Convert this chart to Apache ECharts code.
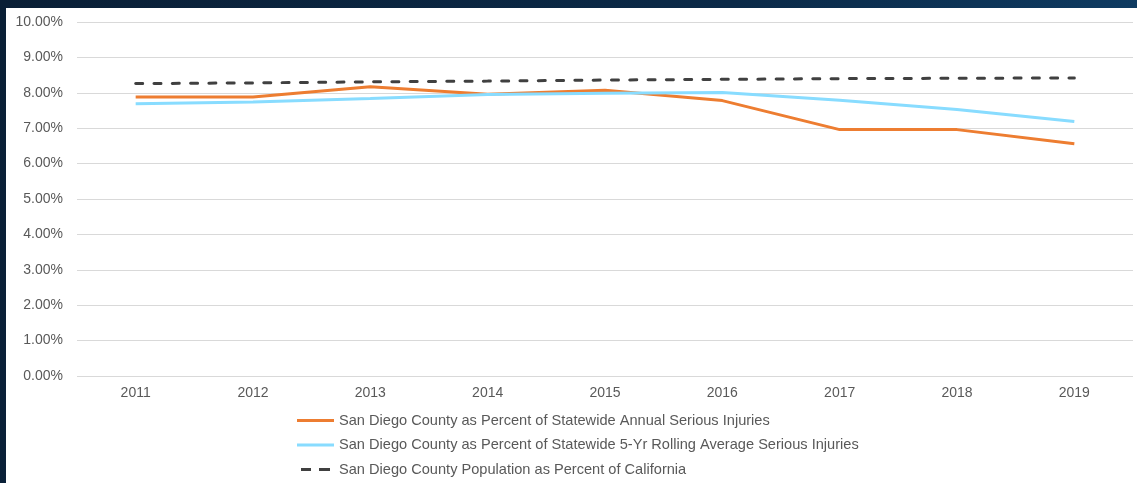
<!DOCTYPE html>
<html>
<head>
<meta charset="utf-8">
<script src="https://cdn.jsdelivr.net/npm/echarts@6/dist/echarts.min.js"></script>
<style>
  html, body { margin: 0; padding: 0; }
  body {
    width: 1137px; height: 483px; position: relative; overflow: hidden;
    background: linear-gradient(100deg, #0a1f36 0%, #0b2a48 60%, #0f3e66 100%);
  }
  .panel { position: absolute; left: 6px; top: 8px; right: 0; bottom: 0; background: #fff; }
  #chart { position: absolute; left: 0; top: 0; width: 1137px; height: 483px; }
</style>
</head>
<body>
<div class="panel"></div>
<div id="chart"></div>
<script>
// years on the x axis
const years = ["2011", "2012", "2013", "2014", "2015", "2016", "2017", "2018", "2019"];
// percent values
const annualInjuries = [7.88, 7.88, 8.17, 7.96, 8.07, 7.78, 6.96, 6.96, 6.56];
const rollingAvgInjuries = [7.69, 7.74, 7.84, 7.95, 7.99, 8.01, 7.79, 7.53, 7.19];
const populationShare = [8.26, 8.28, 8.31, 8.33, 8.36, 8.38, 8.40, 8.41, 8.42];

const seriesNames = [
  "San Diego County as Percent of Statewide Annual Serious Injuries",
  "San Diego County as Percent of Statewide 5-Yr Rolling Average Serious Injuries",
  "San Diego County Population as Percent of California"
];

const chart = echarts.init(document.getElementById("chart"));
const font = "Arial, 'Liberation Sans', sans-serif";
chart.setOption({
  animation: false,
  textStyle: { fontFamily: font },
  grid: { left: 77, right: 4, top: 22, bottom: 107 },
  legend: {
    orient: "vertical",
    left: 297,
    top: 413,
    height: 70,
    padding: 0,
    itemWidth: 37,
    itemHeight: 3,
    itemGap: 9.5,
    textStyle: { color: "#595959", fontSize: 14.6, lineHeight: 14, fontFamily: font },
    data: [
      { name: seriesNames[0], icon: "rect" },
      { name: seriesNames[1], icon: "rect" },
      // two short dashes like the reference key
      { name: seriesNames[2], icon: "path://M0,0H10V3H0ZM18,0H29V3H18Z" }
    ]
  },
  xAxis: {
    type: "category",
    data: years,
    boundaryGap: true,
    axisLine: { show: false },
    axisTick: { show: false },
    axisLabel: { color: "#595959", fontSize: 14, margin: 10 }
  },
  yAxis: {
    type: "value",
    min: 0,
    max: 10,
    interval: 1,
    axisLine: { show: false },
    axisTick: { show: false },
    axisLabel: {
      color: "#595959",
      fontSize: 14,
      margin: 14,
      formatter: (v) => v.toFixed(2) + "%"
    },
    splitLine: { lineStyle: { color: "#d9d9d9", width: 1 } }
  },
  series: [
    {
      name: seriesNames[0],
      type: "line",
      data: annualInjuries,
      symbol: "none",
      itemStyle: { color: "#ed7d31" },
      lineStyle: { color: "#ed7d31", width: 3 }
    },
    {
      name: seriesNames[1],
      type: "line",
      data: rollingAvgInjuries,
      symbol: "none",
      itemStyle: { color: "#88dcff" },
      lineStyle: { color: "#88dcff", width: 3 }
    },
    {
      name: seriesNames[2],
      type: "line",
      data: populationShare,
      symbol: "none",
      itemStyle: { color: "#404040" },
      lineStyle: { color: "#404040", width: 3, type: [7, 11.3], cap: "round" }
    }
  ]
});
</script>
</body>
</html>
